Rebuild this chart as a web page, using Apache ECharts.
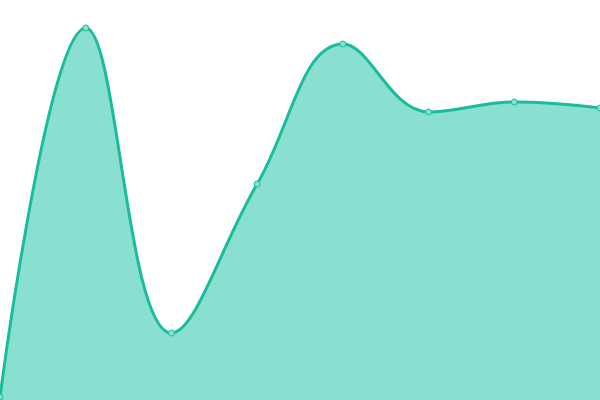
<!DOCTYPE html>
<html>
<head>
<meta charset="utf-8">
<script src="https://cdn.jsdelivr.net/npm/echarts@6/dist/echarts.min.js"></script>
<style>
	html, body { margin: 0; padding: 0; background: #fff; }
	#main { width: 600px; height: 400px; }
</style>
</head>
<body>
<div id="main"></div>
<script>
	var categories = ['1', '2', '3', '4', '5', '6', '7', '8'];
	var values = [3, 372, 67, 216, 356, 288, 298, 292];

	var myChart = echarts.init(document.getElementById('main'));

	var option = {
		animation: false,
		grid: {
			left: 0,
			right: 0,
			top: 0,
			bottom: 0
		},
		xAxis: {
			type: 'category',
			boundaryGap: false,
			data: categories,
			show: false
		},
		yAxis: {
			type: 'value',
			min: 0,
			max: 400,
			show: false
		},
		series: [{
			type: 'line',
			smooth: 0.4,
			data: values,
			symbol: 'circle',
			symbolSize: 6,
			itemStyle: {
				color: '#8ae0d0',
				borderColor: '#1abc9c',
				borderWidth: 1
			},
			lineStyle: {
				color: '#1abc9c',
				width: 3
			},
			areaStyle: {
				color: '#8ae0d0',
				opacity: 1
			}
		}]
	};
	myChart.setOption(option);
</script>
</body>
</html>
